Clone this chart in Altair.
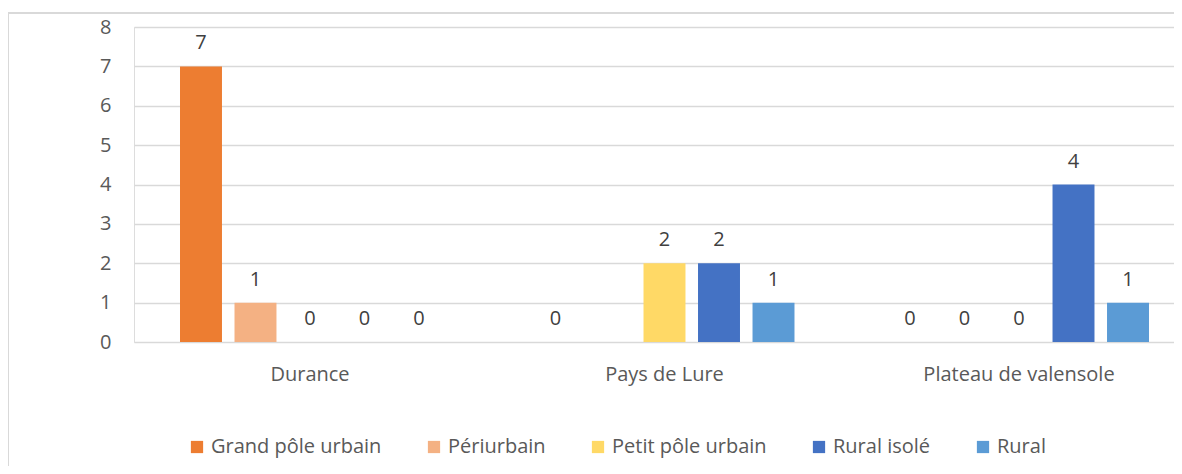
import altair as alt
import pandas as pd

categories = ["Durance", "Pays de Lure", "Plateau de valensole"]
series = ["Grand pôle urbain", "Périurbain", "Petit pôle urbain", "Rural isolé", "Rural"]
colors = ["#ED7D31", "#F4B183", "#FFD966", "#4472C4", "#5B9BD5"]
y_ticks = [0, 1, 2, 3, 4, 5, 6, 7, 8]

grand_pole = [7, 0, 0]
periurbain = [1, None, 0]
petit_pole = [0, 2, 0]
rural_isole = [0, 2, 4]
rural = [0, 1, 1]

values = [grand_pole, periurbain, petit_pole, rural_isole, rural]
rows = []
for s, vals in zip(series, values):
    for c, v in zip(categories, vals):
        if v is not None:
            rows.append({"categorie": c, "serie": s, "valeur": v})
df = pd.DataFrame(rows)

FONT = "Open Sans"

y_axis = alt.Axis(title=None, domain=False, ticks=False, values=y_ticks,
                  labelOverlap=False, tickCount=9,
                  labelPadding=23, labelFontSize=20, labelColor="#595959",
                  labelFont=FONT, gridColor="#d9d9d9", gridWidth=1.3)
y_enc = alt.Y("valeur:Q", scale=alt.Scale(domain=[0, 8], nice=False), axis=y_axis)

base = alt.Chart(df).encode(
    x=alt.X("categorie:N", sort=categories,
            scale=alt.Scale(range=[0, 1061], paddingInner=0.2313, paddingOuter=0.1121),
            axis=alt.Axis(title=None, domain=False, ticks=False, labelAngle=0,
                          labelPadding=22, labelFontSize=20, labelColor="#595959",
                          labelFont=FONT, grid=False, labelLimit=0)),
    xOffset=alt.XOffset("serie:N", sort=series,
                        scale=alt.Scale(paddingInner=0.23, paddingOuter=0.115)),
    y=y_enc,
)

bars = base.mark_bar().encode(
    color=alt.Color("serie:N", sort=series,
                    scale=alt.Scale(domain=series, range=colors),
                    legend=alt.Legend(title=None, orient="none", direction="horizontal",
                                      legendX=53, legendY=410, symbolType="square",
                                      symbolSize=150, symbolStrokeWidth=0,
                                      labelFontSize=20, labelFont=FONT, labelLimit=0,
                                      labelColor="#595959", columnPadding=42,
                                      labelOffset=4)),
)

labels = base.mark_text(baseline="alphabetic", dy=-17, fontSize=20, font=FONT,
                        color="#404040").encode(
    text=alt.Text("valeur:Q"),
)

one = pd.DataFrame({"a": [0]})
frame_left = alt.Chart(one).mark_rule(color="#d9d9d9", strokeWidth=2).encode(
    x=alt.value(-126), y=alt.value(-14), y2=alt.value(440))
frame_top = alt.Chart(one).mark_rule(color="#d9d9d9", strokeWidth=2).encode(
    x=alt.value(-126), x2=alt.value(1040), y=alt.value(-14))

chart = alt.layer(frame_left, frame_top, bars, labels).properties(
    width=1040, height=315,
    autosize=alt.AutoSizeParams(type="none"),
    padding={"left": 126, "top": 19, "right": 0, "bottom": 124},
).configure_view(stroke=None).configure(background="white")

chart.save("out.html", embed_options={"renderer": "svg", "actions": False})
